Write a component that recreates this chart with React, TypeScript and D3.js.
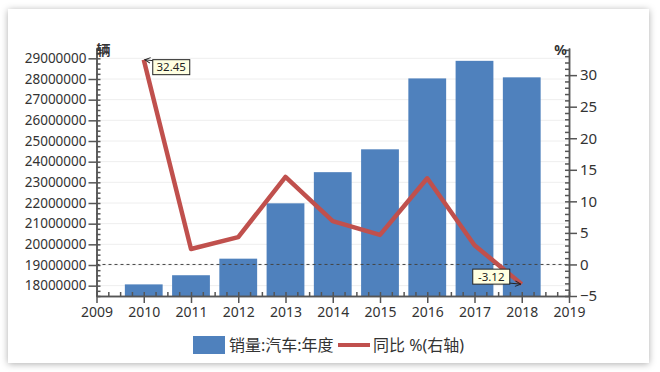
import React, { useRef, useEffect } from 'react';
import * as d3 from 'd3';

const years = [2010, 2011, 2012, 2013, 2014, 2015, 2016, 2017, 2018];
const sales = [18062200, 18505100, 19306400, 21984100, 23491900, 24597600, 28028200, 28878900, 28080600];
const yoy = [32.45, 2.45, 4.33, 13.87, 6.86, 4.68, 13.65, 3.04, -3.12];
const leftTicks = d3.range(18000000, 29000001, 1000000);
const rightTicks = [-5, 0, 5, 10, 15, 20, 25, 30];
const yearTicks = d3.range(2009, 2020);
const legendLabels = ['销量:汽车:年度', '同比 %(右轴)'];
const unitLeft = '辆';
const unitRight = '%';

const W = 660;
const H = 372;
const BLUE = '#4f81bd';
const RED = '#c0504d';
const AXIS = '#555';
const FONT = '"Noto Sans", "Noto Sans CJK SC", sans-serif';

const App = () => {
  const svgRef = useRef<SVGSVGElement>(null);

  useEffect(() => {
    const svg = d3.select(svgRef.current);
    svg.selectAll('*').remove();

    const plot = { left: 96.5, right: 569, top: 48, bottom: 296 };

    const x = d3.scaleLinear().domain([2009, 2019]).range([plot.left, plot.right]);
    const yL = d3.scaleLinear().domain([17500000, 29500000]).range([plot.bottom, plot.top]);
    const yR = d3.scaleLinear().domain([-5, 34.3]).range([plot.bottom, plot.top]);

    // card with soft shadow
    const defs = svg.append('defs');
    const f = defs.append('filter').attr('id', 'shadow').attr('x', '-5%').attr('y', '-5%').attr('width', '110%').attr('height', '110%');
    f.append('feDropShadow').attr('dx', 0).attr('dy', 1).attr('stdDeviation', 3.5)
      .attr('flood-color', '#000').attr('flood-opacity', 0.32);
    defs.append('marker').attr('id', 'arrow').attr('viewBox', '0 0 10 10')
      .attr('refX', 9).attr('refY', 5).attr('markerWidth', 7).attr('markerHeight', 7)
      .attr('orient', 'auto-start-reverse')
      .append('path').attr('d', 'M1,1 L9,5 L1,9').attr('fill', 'none').attr('stroke', '#222').attr('stroke-width', 1.4);

    svg.append('rect').attr('width', W).attr('height', H).attr('fill', '#fff');
    svg.append('rect').attr('x', 8).attr('y', 9).attr('width', 641).attr('height', 354)
      .attr('fill', '#fff').attr('filter', 'url(#shadow)');

    // gridlines
    svg.append('g').selectAll('line').data(leftTicks).enter().append('line')
      .attr('x1', plot.left).attr('x2', plot.right)
      .attr('y1', d => yL(d)).attr('y2', d => yL(d))
      .attr('stroke', '#eeeeee').attr('stroke-width', 1);

    // bars
    const bw = (x(2010) - x(2009)) * 0.8;
    svg.append('g').selectAll('rect').data(years).enter().append('rect')
      .attr('x', d => x(d) - bw / 2)
      .attr('width', bw)
      .attr('y', (d, i) => yL(sales[i]))
      .attr('height', (d, i) => plot.bottom - yL(sales[i]))
      .attr('fill', BLUE);

    // zero reference line
    svg.append('line')
      .attr('x1', plot.left).attr('x2', plot.right)
      .attr('y1', yR(0)).attr('y2', yR(0))
      .attr('stroke', '#444').attr('stroke-width', 1).attr('stroke-dasharray', '3,3');

    // yoy line
    const line = d3.line<number>().x((d, i) => x(years[i])).y(d => yR(d));
    svg.append('path').datum(yoy).attr('d', line)
      .attr('fill', 'none').attr('stroke', RED).attr('stroke-width', 4.5)
      .attr('stroke-linejoin', 'round');

    // axes
    const styleAxis = (g: any, size: number) => {
      g.select('.domain').attr('stroke', AXIS).attr('stroke-width', 1.5);
      g.selectAll('.tick line').attr('stroke', AXIS).attr('stroke-width', 1.5);
      g.selectAll('.tick text').attr('fill', '#333').style('font-family', FONT).style('font-size', `${size}px`);
    };

    const leftMinor = d3.range(17500000, 29500001, 250000);
    const gLm = svg.append('g').attr('transform', `translate(${plot.left},0)`)
      .call(d3.axisLeft(yL).tickValues(leftMinor).tickSize(-4).tickSizeOuter(0).tickFormat(() => ''));
    styleAxis(gLm, 13);
    const gL = svg.append('g').attr('transform', `translate(${plot.left},0)`)
      .call(d3.axisLeft(yL).tickValues(leftTicks).tickSize(8).tickPadding(2).tickSizeOuter(0).tickFormat(d3.format('d')));
    styleAxis(gL, 13.5);

    const rightMinor = d3.range(-5, 35, 1);
    const gRm = svg.append('g').attr('transform', `translate(${plot.right},0)`)
      .call(d3.axisRight(yR).tickValues(rightMinor).tickSize(-4).tickSizeOuter(0).tickFormat(() => ''));
    styleAxis(gRm, 15);
    const gR = svg.append('g').attr('transform', `translate(${plot.right},0)`)
      .call(d3.axisRight(yR).tickValues(rightTicks).tickSize(8).tickPadding(3).tickSizeOuter(0).tickFormat(d3.format('d')));
    styleAxis(gR, 15);

    const xMinor = d3.range(2009, 2019.01, 0.25);
    const gXm = svg.append('g').attr('transform', `translate(0,${plot.bottom})`)
      .call(d3.axisBottom(x).tickValues(xMinor).tickSize(-4).tickSizeOuter(0).tickFormat(() => ''));
    styleAxis(gXm, 13);
    const gX = svg.append('g').attr('transform', `translate(0,${plot.bottom})`)
      .call(d3.axisBottom(x).tickValues(yearTicks).tickSize(7).tickPadding(4).tickSizeOuter(0).tickFormat(d3.format('d')));
    styleAxis(gX, 14);

    // unit labels
    svg.append('text').attr('x', plot.left).attr('y', 55).text(unitLeft)
      .style('font-family', FONT).style('font-size', '14px').style('font-weight', 'bold').attr('fill', '#333');
    svg.append('text').attr('x', plot.right - 2).attr('y', 55).attr('text-anchor', 'end').text(unitRight)
      .style('font-family', FONT).style('font-size', '14px').style('font-weight', 'bold').attr('fill', '#333');

    // annotations
    const annotate = (i: number, side: 'right' | 'left') => {
      const px = x(years[i]);
      const py = yR(yoy[i]);
      const label = yoy[i].toFixed(2);
      const bwid = 37, bh = 15;
      const bx = side === 'right' ? px + 9 : px - 12 - bwid;
      const by = side === 'right' ? py : py - bh;
      const g = svg.append('g');
      g.append('rect').attr('x', bx).attr('y', by).attr('width', bwid).attr('height', bh)
        .attr('fill', '#ffffe1').attr('stroke', '#222').attr('stroke-width', 1);
      g.append('text').attr('x', bx + bwid / 2).attr('y', by + bh / 2 + 4).attr('text-anchor', 'middle')
        .text(label).style('font-family', FONT).style('font-size', '11.5px').attr('fill', '#222');
      const sx = side === 'right' ? bx : bx + bwid;
      const sy = side === 'right' ? py + 1 : py - 1;
      g.append('line').attr('x1', sx).attr('y1', sy).attr('x2', px + (side === 'right' ? 1 : -1)).attr('y2', py)
        .attr('stroke', '#222').attr('stroke-width', 1).attr('marker-end', 'url(#arrow)');
    };
    annotate(0, 'right');
    annotate(8, 'left');

    // legend
    const lg = svg.append('g');
    lg.append('rect').attr('x', 193).attr('y', 336).attr('width', 32).attr('height', 18).attr('fill', BLUE);
    lg.append('text').attr('x', 229).attr('y', 351).text(legendLabels[0])
      .style('font-family', FONT).style('font-size', '16px').attr('fill', '#333');
    lg.append('line').attr('x1', 338).attr('x2', 370).attr('y1', 345).attr('y2', 345)
      .attr('stroke', RED).attr('stroke-width', 4);
    lg.append('text').attr('x', 373).attr('y', 351).text(legendLabels[1])
      .style('font-family', FONT).style('font-size', '16px').attr('fill', '#333');
  }, []);

  return (
    <div style={{ position: 'absolute', left: 0, top: 0, width: W, height: H }}>
      <svg ref={svgRef} width={W} height={H} style={{ display: 'block' }}></svg>
    </div>
  );
};

export default App;
